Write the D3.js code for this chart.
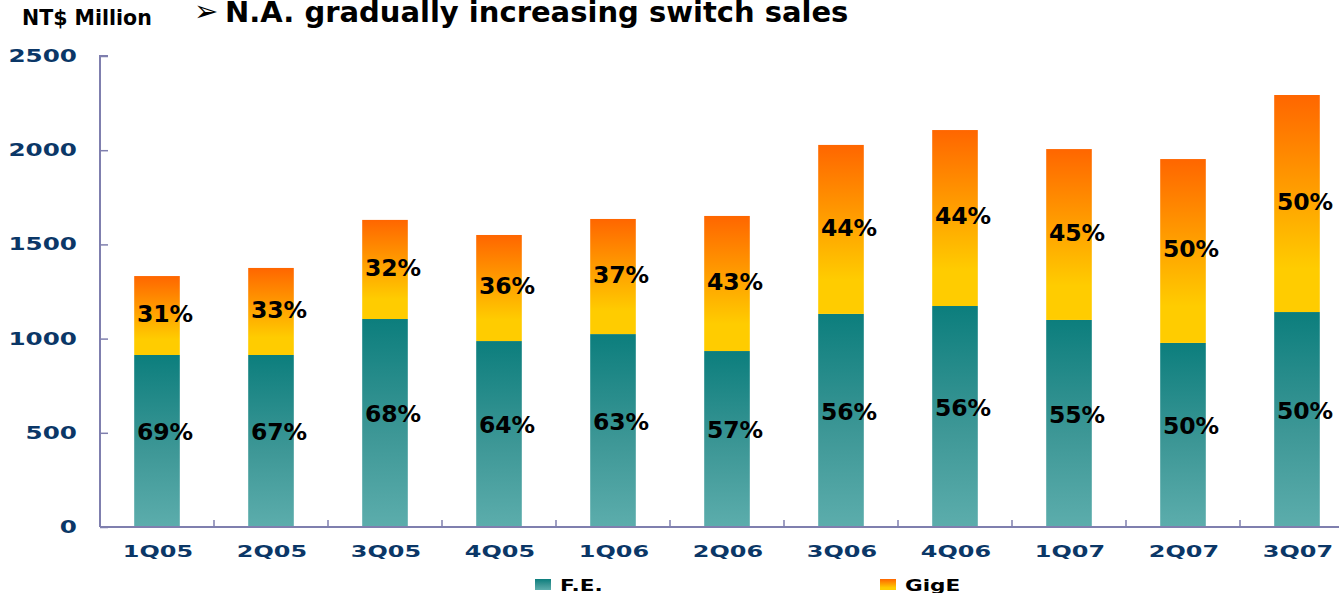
<!DOCTYPE html>
<html>
<head>
<meta charset="utf-8">
<script src="https://cdn.jsdelivr.net/npm/d3@7"></script>
<style>
  body { margin: 0; background: #fff; }
  svg text { font-family: "DejaVu Sans", Verdana, sans-serif; font-weight: bold; }
</style>
</head>
<body>
<svg id="chart" width="1339" height="593"></svg>
<script>
// quarters on the x axis
var quarters = ["1Q05", "2Q05", "3Q05", "4Q05", "1Q06", "2Q06", "3Q06", "4Q06", "1Q07", "2Q07", "3Q07"];
// NT$ million
var feValues   = [913, 913, 1104, 987, 1024, 934, 1131, 1173, 1099, 977, 1141];
var gigeValues = [419, 462, 526, 563, 611, 717, 897, 934, 907, 976, 1152];
// percent labels printed on the bars
var fePct   = ["69%", "67%", "68%", "64%", "63%", "57%", "56%", "56%", "55%", "50%", "50%"];
var gigePct = ["31%", "33%", "32%", "36%", "37%", "43%", "44%", "44%", "45%", "50%", "50%"];
var yTicks = [0, 500, 1000, 1500, 2000, 2500];

var svg = d3.select("#chart");
var axisColor = "#7f7fae";
var tickColor = "#0b3767";

var x = d3.scaleBand().domain(quarters).range([100, 1354]).paddingInner(0.6).paddingOuter(0.3);
var y = d3.scaleLinear().domain([0, 2500]).range([527, 56]);

// gradients
var defs = svg.append("defs");
var gFE = defs.append("linearGradient").attr("id", "gradFE").attr("x1", 0).attr("y1", 0).attr("x2", 0).attr("y2", 1);
gFE.append("stop").attr("offset", "0").attr("stop-color", "#0c7e7d");
gFE.append("stop").attr("offset", "0.55").attr("stop-color", "#3d9796");
gFE.append("stop").attr("offset", "1").attr("stop-color", "#5cadac");
var gGig = defs.append("linearGradient").attr("id", "gradGig").attr("x1", 0).attr("y1", 0).attr("x2", 0).attr("y2", 1);
gGig.append("stop").attr("offset", "0").attr("stop-color", "#ff6600");
gGig.append("stop").attr("offset", "0.8").attr("stop-color", "#ffcc00");
gGig.append("stop").attr("offset", "1").attr("stop-color", "#ffcc00");

var rows = quarters.map(function(q, i) {
  return { q: q, fe: feValues[i], gige: gigeValues[i], fePct: fePct[i], gigePct: gigePct[i] };
});

// bars
var bars = svg.append("g").selectAll("g").data(rows).enter().append("g");
bars.append("rect")
  .attr("x", function(d) { return x(d.q); })
  .attr("width", x.bandwidth())
  .attr("y", function(d) { return y(d.fe); })
  .attr("height", function(d) { return y(0) - y(d.fe); })
  .attr("fill", "url(#gradFE)");
bars.append("rect")
  .attr("x", function(d) { return x(d.q); })
  .attr("width", x.bandwidth())
  .attr("y", function(d) { return y(d.fe + d.gige); })
  .attr("height", function(d) { return y(d.fe) - y(d.fe + d.gige); })
  .attr("fill", "url(#gradGig)");

// percent labels
bars.append("text")
  .attr("x", function(d) { return x(d.q) + x.bandwidth() / 2 + 8; })
  .attr("y", function(d) { return (y(d.fe) + y(0)) / 2 - 9; })
  .attr("dy", "0.35em")
  .attr("text-anchor", "middle")
  .attr("font-size", "23.5px")
  .attr("fill", "#000")
  .text(function(d) { return d.fePct; });
bars.append("text")
  .attr("x", function(d) { return x(d.q) + x.bandwidth() / 2 + 8; })
  .attr("y", function(d) { return (y(d.fe + d.gige) + y(d.fe)) / 2 - 2; })
  .attr("dy", "0.35em")
  .attr("text-anchor", "middle")
  .attr("font-size", "23.5px")
  .attr("fill", "#000")
  .text(function(d) { return d.gigePct; });

// y axis
var yAxis = svg.append("g").attr("transform", "translate(100,0)")
  .call(d3.axisRight(y).tickValues(yTicks).tickSize(8).tickFormat(""));
yAxis.select(".domain").attr("stroke", axisColor).attr("stroke-width", 2).attr("d", "M8,56H0V527");
yAxis.selectAll(".tick line").attr("stroke", axisColor).attr("stroke-width", 1.5);
svg.append("g").selectAll("text").data(yTicks).enter().append("text")
  .attr("transform", function(d) { return "translate(77," + (y(d) + 6) + ") scale(1.45,1)"; })
  .attr("text-anchor", "end")
  .attr("font-size", "17px")
  .attr("fill", tickColor)
  .text(function(d) { return d; });

// x axis
var xAxis = svg.append("g").attr("transform", "translate(0,527)");
xAxis.append("line").attr("x1", 100).attr("x2", 1339).attr("y1", 0).attr("y2", 0)
  .attr("stroke", axisColor).attr("stroke-width", 2);
xAxis.selectAll("line.sep").data(quarters.slice(1)).enter().append("line")
  .attr("class", "sep")
  .attr("x1", function(d) { return x(d) - x.step() * x.paddingInner() / 2; })
  .attr("x2", function(d) { return x(d) - x.step() * x.paddingInner() / 2; })
  .attr("y1", 0).attr("y2", -7)
  .attr("stroke", axisColor).attr("stroke-width", 1.5);
xAxis.selectAll("text").data(quarters).enter().append("text")
  .attr("transform", function(d) { return "translate(" + (x(d) + x.bandwidth() / 2 + 1) + ",30) scale(1.45,1)"; })
  .attr("text-anchor", "middle")
  .attr("font-size", "16.5px")
  .attr("fill", tickColor)
  .text(function(d) { return d; });

// titles
svg.append("text").attr("x", 22).attr("y", 25).attr("font-size", "20.5px").attr("fill", "#000").text("NT$ Million");
svg.append("text").attr("x", 194).attr("y", 21).attr("font-size", "29px").attr("fill", "#000").text("\u27A2");
svg.append("text").attr("x", 225).attr("y", 22).attr("font-size", "29px").attr("fill", "#000")
  .text("N.A. gradually increasing switch sales");

// legend
var legend = [{ name: "F.E.", fill: "url(#gradFE)", x: 535 }, { name: "GigE", fill: "url(#gradGig)", x: 880 }];
var lg = svg.append("g").selectAll("g").data(legend).enter().append("g");
lg.append("rect").attr("x", function(d) { return d.x; }).attr("y", 579).attr("width", 16).attr("height", 11)
  .attr("fill", function(d) { return d.fill; });
lg.append("text")
  .attr("transform", function(d) { return "translate(" + (d.x + 25) + ",591) scale(1.35,1)"; })
  .attr("font-size", "16px").attr("fill", "#000")
  .text(function(d) { return d.name; });
</script>
</body>
</html>
